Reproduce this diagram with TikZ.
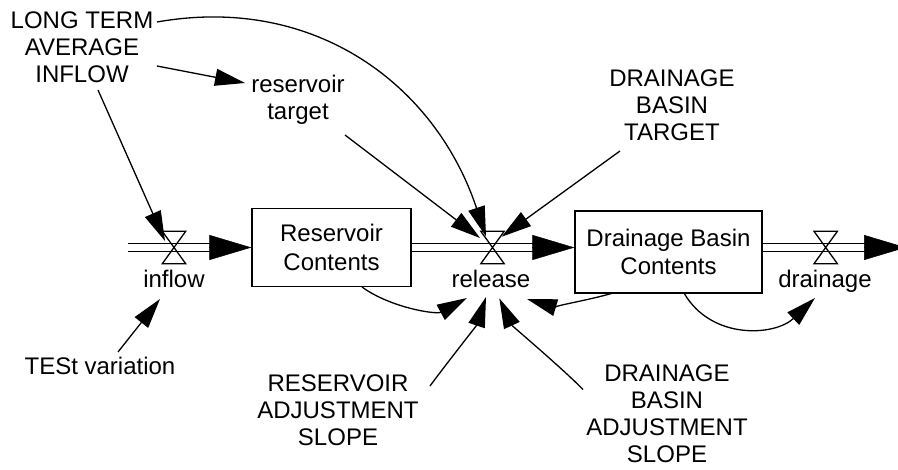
\documentclass[tikz,border=0pt]{standalone}
\usepackage{fontspec}
\setmainfont{Liberation Sans}
\usetikzlibrary{arrows.meta,calc}
\begin{document}
\begin{tikzpicture}[x=1pt,y=-1pt,
  lbl/.style={font=\fontsize{24pt}{27pt}\selectfont, align=center, inner sep=0pt},
  stock/.style={draw, line width=1.3pt, inner sep=0pt, align=center, font=\fontsize{24pt}{28.5pt}\selectfont},
  valve/.style={inner sep=0pt, minimum width=23pt, minimum height=32pt},
  pipe/.style={line width=1.3pt, double, double distance=7.1pt},
  flowtip/.style={-{Triangle[length=42pt,width=25pt]}, line width=0.5pt},
  infl/.style={line width=1.3pt, -{Triangle[length=30pt,width=17pt]}},
  bowtie/.style={line width=1.3pt, line join=miter}
]
\useasboundingbox (0,0) rectangle (898,470);

% text variables
\node[lbl] (lt) at (82,47.6) {LONG TERM\\AVERAGE\\INFLOW};
\node[lbl] (rt) at (298,99.3) {reservoir\\target};
\node[lbl] (dbt) at (672,105.3) {DRAINAGE\\BASIN\\TARGET};
\node[lbl, anchor=base] (tv) at (100,375) {TESt variation};
\node[lbl] (ras) at (338,410) {RESERVOIR\\ADJUSTMENT\\SLOPE};
\node[lbl] (dbas) at (667,413.5) {DRAINAGE\\BASIN\\ADJUSTMENT\\SLOPE};

% stocks
\node[stock, minimum width=159pt, minimum height=78pt] (res) at (331.5,247.5) {Reservoir\\Contents};
\node[stock, minimum width=187pt, minimum height=82pt] (drn) at (668.5,252) {Drainage Basin\\Contents};

% valves
\node[valve] (vin) at (174,247.5) {};
\node[valve] (vrel) at (492.5,247.5) {};
\node[valve] (vdr) at (825.7,247.5) {};
\node[lbl, anchor=base] (lin) at (174,288) {inflow};
\node[lbl, anchor=base] (lrel) at (491,288) {release};
\node[lbl, anchor=base] (ldr) at (825,288) {drainage};

\coordinate (src) at (128,247.5);
\coordinate (snk) at (906,247.5);

% pipes
\draw[pipe] (src) -- ($(src -| res.west)+(-41,0)$);
\draw[flowtip] ($(src -| res.west)+(-42,0)$) -- (src -| res.west);
\draw[pipe] (vrel -| res.east) -- ($(vrel -| drn.west)+(-41,0)$);
\draw[flowtip] ($(vrel -| drn.west)+(-42,0)$) -- (vrel -| drn.west);
\draw[pipe] (vdr -| drn.east) -- ($(snk)+(-41,0)$);
\draw[flowtip] ($(snk)+(-42,0)$) -- (snk);

\foreach \v in {vin,vrel,vdr}
  \draw[bowtie] (\v.north west) -- (\v.north east) -- (\v.south west) -- (\v.south east) -- cycle;

% influences
\draw[infl] ($(lt.center)+(75,-25.6)$) .. controls (314.6,-5.8) and (435.4,84.7) .. ($(vrel.center)+(-6.5,-11)$);
\draw[infl] ($(lt.center)+(75,18.4)$) -- ($(rt.center)+(-53,-16.3)$);
\draw[infl] ($(lt.center)+(16,42.4)$) -- ($(vin.center)+(-9,-6.5)$);
\draw[infl] ($(rt.center)+(47,35.7)$) -- ($(vrel.center)+(-12.5,-9.5)$);
\draw[infl] ($(dbt.center)+(-52,45.7)$) -- ($(vrel.center)+(9.2,-10.8)$);
\draw[infl] ($(tv.base)+(18,-23)$) -- ($(vin.center)+(-14,51.5)$);
\draw[infl] ($(res.center)+(30.5,39.5)$) .. controls (390.4,307.7) and (436.2,314.8) .. ($(vrel.center)+(-25.5,50.5)$);
\draw[infl] ($(ras.center)+(92,-24)$) .. controls (447,363) and (476.6,325.5) .. ($(vrel.center)+(-6.5,49.5)$);
\draw[infl] ($(dbas.center)+(-84,-24)$) .. controls (563,369) and (511.9,325.6) .. ($(vrel.center)+(6.8,50.8)$);
\draw[infl] ($(drn.center)+(-55.5,41)$) .. controls (589,300.3) and (551,306.2) .. ($(vrel.center)+(34.5,51.5)$);
\draw[infl] ($(drn.center)+(15.5,41)$) .. controls (711.5,340.6) and (775.1,335.9) .. ($(vdr.center)+(-10.7,50.5)$);
\end{tikzpicture}
\end{document}
